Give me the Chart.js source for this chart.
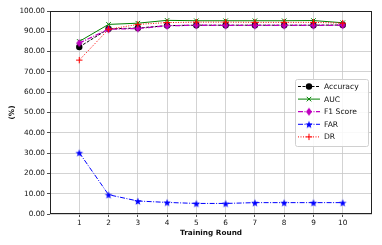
<!DOCTYPE html>
<html>
<head>
<meta charset="utf-8">
<script src="https://cdn.jsdelivr.net/npm/chart.js@4.4.1/dist/chart.umd.min.js"></script>
<style>
  html, body { margin: 0; padding: 0; background: #fff; }
  #wrap { width: 382px; height: 245px; }
</style>
</head>
<body>
<div id="wrap"><canvas id="roundsChart" width="382" height="245"></canvas></div>
<script>
const rounds = [1, 2, 3, 4, 5, 6, 7, 8, 9, 10];
const accuracy = [82.3, 91.2, 91.6, 92.8, 93.0, 93.0, 93.0, 93.0, 93.0, 93.1];
const auc = [85.0, 93.4, 94.0, 95.4, 95.2, 95.2, 95.2, 95.2, 95.3, 94.2];
const f1Score = [84.2, 91.0, 91.4, 92.7, 93.0, 92.9, 92.9, 92.9, 92.9, 93.0];
const far = [30.2, 9.5, 6.4, 5.7, 5.2, 5.2, 5.6, 5.6, 5.6, 5.6];
const dr = [75.8, 91.0, 93.4, 94.3, 94.5, 94.5, 94.4, 94.4, 94.4, 94.0];
const yTicks = [0, 10, 20, 30, 40, 50, 60, 70, 80, 90, 100];

const FONT = 'DejaVu Sans';

function starMarker(r, color) {
  const c = document.createElement('canvas');
  c.width = c.height = Math.ceil(r * 2 + 2);
  const g = c.getContext('2d');
  const cx = c.width / 2, cy = c.height / 2 + 0.5;
  g.beginPath();
  for (let i = 0; i < 10; i++) {
    const rad = i % 2 === 0 ? r : r * 0.42;
    const a = -Math.PI / 2 + i * Math.PI / 5;
    g.lineTo(cx + rad * Math.cos(a), cy + rad * Math.sin(a));
  }
  g.closePath();
  g.fillStyle = color;
  g.fill();
  return c;
}

function diamondMarker(w, h, color) {
  const c = document.createElement('canvas');
  c.width = w + 2;
  c.height = h + 2;
  const g = c.getContext('2d');
  const cx = c.width / 2, cy = c.height / 2;
  g.beginPath();
  g.moveTo(cx, cy - h / 2);
  g.lineTo(cx + w / 2, cy);
  g.lineTo(cx, cy + h / 2);
  g.lineTo(cx - w / 2, cy);
  g.closePath();
  g.fillStyle = color;
  g.fill();
  return c;
}

function toPoints(values) {
  return rounds.map((r, i) => ({ x: r, y: values[i] }));
}

// box around the plot + legend inside the axes (matplotlib style)
const framePlugin = {
  id: 'frame',
  afterDatasetsDraw(chart) {
    const { ctx, chartArea: a } = chart;
    ctx.save();
    ctx.strokeStyle = '#222';
    ctx.lineWidth = 1;
    ctx.strokeRect(a.left + 0.5, a.top + 0.5, a.right - a.left - 1, a.bottom - a.top - 1);

    // legend
    const bx = 295, by = 79, bw = 73, bh = 67;
    ctx.beginPath();
    ctx.roundRect(bx + 0.5, by + 0.5, bw, bh, 2);
    ctx.fillStyle = 'rgba(255,255,255,0.85)';
    ctx.fill();
    ctx.strokeStyle = '#d0d0d0';
    ctx.stroke();

    ctx.font = '7.6px "' + FONT + '"';
    ctx.textBaseline = 'middle';
    ctx.textAlign = 'left';
    chart.data.datasets.forEach((ds, i) => {
      const y = 86.5 + i * 12.6;
      ctx.save();
      ctx.strokeStyle = ds.borderColor;
      ctx.lineWidth = ds.borderWidth;
      ctx.setLineDash(ds.borderDash || []);
      ctx.beginPath();
      ctx.moveTo(298, y);
      ctx.lineTo(320, y);
      ctx.stroke();
      ctx.setLineDash([]);
      ctx.fillStyle = ds.pointBackgroundColor;
      ctx.strokeStyle = ds.pointBorderColor;
      ctx.lineWidth = ds.pointBorderWidth;
      Chart.helpers.drawPoint(ctx, {
        pointStyle: ds.pointStyle,
        radius: ds.pointRadius,
        rotation: 0,
        borderWidth: ds.pointBorderWidth
      }, 309, y);
      ctx.restore();
      ctx.fillStyle = '#111';
      ctx.fillText(ds.label, 324, y + 0.5);
    });
    ctx.restore();
  }
};

const ctx = document.getElementById('roundsChart');

new Chart(ctx, {
  type: 'line',
  data: {
    datasets: [{
      label: 'Accuracy',
      data: toPoints(accuracy),
      borderColor: '#000000',
      borderWidth: 1,
      borderDash: [3, 1.5],
      pointStyle: 'circle',
      pointRadius: 3.2,
      pointBackgroundColor: '#000000',
      pointBorderColor: '#000000',
      pointBorderWidth: 0,
      order: 5
    }, {
      label: 'AUC',
      data: toPoints(auc),
      borderColor: '#008000',
      borderWidth: 1,
      borderDash: [],
      pointStyle: 'crossRot',
      pointRadius: 3.2,
      pointBackgroundColor: '#008000',
      pointBorderColor: '#008000',
      pointBorderWidth: 1,
      order: 4
    }, {
      label: 'F1 Score',
      data: toPoints(f1Score),
      borderColor: '#bf00bf',
      borderWidth: 1.3,
      borderDash: [5, 1.5, 1, 1.5],
      pointStyle: diamondMarker(6, 8, '#bf00bf'),
      pointRadius: 4,
      pointBackgroundColor: '#bf00bf',
      pointBorderColor: '#bf00bf',
      pointBorderWidth: 0,
      order: 3
    }, {
      label: 'FAR',
      data: toPoints(far),
      borderColor: '#0000ff',
      borderWidth: 1,
      borderDash: [5, 1.5, 1, 1.5],
      pointStyle: starMarker(4, '#0000ff'),
      pointRadius: 4,
      pointBackgroundColor: '#0000ff',
      pointBorderColor: '#0000ff',
      pointBorderWidth: 0,
      order: 2
    }, {
      label: 'DR',
      data: toPoints(dr),
      borderColor: '#ff0000',
      borderWidth: 1,
      borderDash: [1, 1.5],
      pointStyle: 'cross',
      pointRadius: 3.2,
      pointBackgroundColor: '#ff0000',
      pointBorderColor: '#ff0000',
      pointBorderWidth: 1,
      order: 1
    }]
  },
  options: {
    responsive: false,
    animation: false,
    devicePixelRatio: 1,
    layout: {
      padding: { top: 11, right: 10, left: 0, bottom: 0 }
    },
    plugins: {
      legend: { display: false },
      tooltip: { enabled: false }
    },
    scales: {
      x: {
        type: 'linear',
        min: 0,
        max: 11,
        afterBuildTicks: function(scale) {
          scale.ticks = rounds.map(v => ({ value: v }));
        },
        afterFit: function(scale) {
          scale.height = 31;
        },
        ticks: {
          color: '#111',
          font: { family: FONT, size: 7.3 },
          padding: 2,
          maxRotation: 0,
          autoSkip: false
        },
        grid: {
          color: '#c8c8c8',
          lineWidth: 0.8,
          borderDash: [1.2, 1.2],
          tickLength: 3,
          tickColor: '#222',
          tickWidth: 0.8,
          tickBorderDash: []
        },
        border: { display: false },
        title: {
          display: true,
          text: 'Training Round',
          color: '#111',
          font: { family: FONT, size: 7.3, weight: 'bold' },
          padding: { top: 0, bottom: 8 }
        }
      },
      y: {
        min: 0,
        max: 100,
        afterBuildTicks: function(scale) {
          scale.ticks = yTicks.map(v => ({ value: v }));
        },
        afterFit: function(scale) {
          scale.width = 50;
        },
        ticks: {
          color: '#111',
          font: { family: FONT, size: 7.3 },
          padding: 2,
          callback: function(value) {
            return value.toFixed(2);
          }
        },
        grid: {
          color: '#c8c8c8',
          lineWidth: 0.8,
          borderDash: [1.2, 1.2],
          tickLength: 3,
          tickColor: '#222',
          tickWidth: 0.8,
          tickBorderDash: []
        },
        border: { display: false },
        title: {
          display: true,
          text: '(%)',
          color: '#111',
          font: { family: FONT, size: 7.3, weight: 'bold' },
          padding: { top: 8, bottom: 0 }
        }
      }
    }
  },
  plugins: [framePlugin]
});
</script>
</body>
</html>
